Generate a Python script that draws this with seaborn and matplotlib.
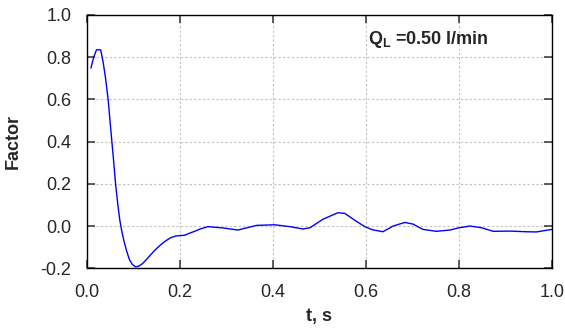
import matplotlib
matplotlib.use("Agg")
import matplotlib.pyplot as plt
import seaborn as sns
import pandas as pd

t_values = [0.009, 0.015, 0.021, 0.030, 0.035, 0.040, 0.046, 0.052, 0.057, 0.062,
            0.067, 0.071, 0.075, 0.080, 0.086, 0.092, 0.098, 0.105, 0.112, 0.120,
            0.130, 0.140, 0.150, 0.160, 0.170, 0.180, 0.190, 0.200, 0.210, 0.221,
            0.232, 0.245, 0.261, 0.293, 0.325, 0.345, 0.365, 0.404, 0.437, 0.465,
            0.480, 0.508, 0.540, 0.555, 0.576, 0.598, 0.615, 0.637, 0.659, 0.684,
            0.702, 0.723, 0.752, 0.781, 0.799, 0.824, 0.849, 0.874, 0.910, 0.946,
            0.967, 1.000]
factor_values = [0.748, 0.800, 0.835, 0.835, 0.780, 0.708, 0.600, 0.450, 0.330, 0.200,
                 0.100, 0.030, -0.020, -0.070, -0.120, -0.160, -0.182, -0.193, -0.190, -0.178,
                 -0.155, -0.130, -0.107, -0.087, -0.070, -0.056, -0.048, -0.045, -0.044, -0.034,
                 -0.025, -0.013, -0.003, -0.009, -0.019, -0.008, 0.003, 0.006, -0.003, -0.014,
                 -0.008, 0.032, 0.063, 0.060, 0.028, -0.003, -0.018, -0.027, 0.000, 0.017,
                 0.009, -0.016, -0.025, -0.019, -0.009, 0.000, -0.008, -0.025, -0.024, -0.027,
                 -0.028, -0.016]

x_ticks = [0.0, 0.2, 0.4, 0.6, 0.8, 1.0]
y_ticks = [-0.2, 0.0, 0.2, 0.4, 0.6, 0.8, 1.0]

df = pd.DataFrame({"t": t_values, "factor": factor_values})

sns.set_style("white")
plt.rcParams["font.family"] = ["Liberation Sans", "DejaVu Sans"]
plt.rcParams["mathtext.fontset"] = "custom"
plt.rcParams["mathtext.rm"] = "Liberation Sans"
plt.rcParams["mathtext.bf"] = "Liberation Sans:bold"

fig = plt.figure(figsize=(5.65, 3.32), dpi=100)
ax = fig.add_axes([0.1535, 0.192, 0.823, 0.763])

sns.lineplot(data=df, x="t", y="factor", ax=ax, color="#0000ff", linewidth=1.0,
             sort=False, estimator=None)

ax.set_xlim(0, 1.0)
ax.set_ylim(-0.2, 1.0)
ax.set_xticks(x_ticks)
ax.set_yticks(y_ticks)
ax.set_xticklabels([f"{v:.1f}" for v in x_ticks], fontsize=13)
ax.set_yticklabels([f"{v:.1f}" for v in y_ticks], fontsize=13)
ax.grid(True, color="#c0c0c0", linestyle=(0, (2, 2)), linewidth=0.8)
ax.tick_params(direction="in", length=6, width=1.2, color="#404040",
               top=True, right=True, bottom=True, left=True)
ax.tick_params(axis="x", pad=11)
ax.tick_params(axis="y", pad=11)
for s in ax.spines.values():
    s.set_color("black")
    s.set_linewidth(1.0)

ax.set_xlabel("t, s", fontsize=13, fontweight="bold")
ax.set_ylabel("Factor", fontsize=13, fontweight="bold")
ax.xaxis.set_label_coords(0.5, -0.158)
ax.yaxis.set_label_coords(-0.14, 0.5)

ax.text(0.604, 0.905, r"$\mathbf{Q}_{\mathbf{L}}$ =0.50 l/min", transform=ax.transAxes,
        fontsize=13, fontweight="bold", va="center", ha="left")

fig.savefig("out.png", dpi=100)
